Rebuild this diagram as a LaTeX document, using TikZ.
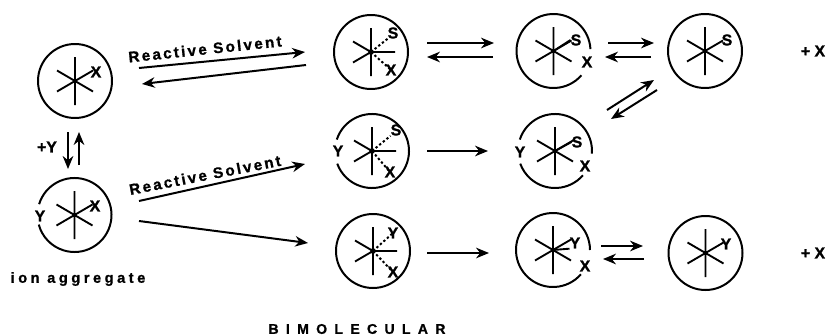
\documentclass[tikz,border=0pt]{standalone}
\usepackage{fontspec}
\setmainfont{Liberation Sans}[BoldFont=Liberation Sans Bold]
\usetikzlibrary{arrows.meta}
\newfontfamily\lblfont[FakeBold=1.2]{Liberation Sans Bold}
\newfontfamily\spfont[LetterSpace=15,FakeBold=1]{Liberation Sans Bold}
\newfontfamily\ionfont[LetterSpace=24,FakeBold=1]{Liberation Sans Bold}
\newfontfamily\bimfont[LetterSpace=52,FakeBold=1]{Liberation Sans Bold}
\tikzset{
  ink/.style={line width=1.7pt,draw=black},
  ring/.style={circle,ink,minimum size=2.22cm,inner sep=0pt},
  hubspot/.style={circle,minimum size=2.22cm,inner sep=0pt},
  spoke/.style={line width=1.6pt,draw=black},
  bond/.style={line width=1.7pt,draw=black,dash pattern=on 2pt off 2pt},
  arr/.style={ink,-{Stealth[length=11pt,width=9pt,inset=3.5pt]}},
  lab/.style={font=\lblfont\fontsize{13.5}{14}\selectfont,inner sep=0pt,text=black},
  solv/.style={font=\spfont\fontsize{13}{14}\selectfont,inner sep=0pt,text=black},
}
\newcommand{\hubfull}[1]{%
  \draw[spoke,shift={(#1.center)}] (0,-24)--(0,24) (-18,-10.5)--(18,10.5) (-18,10.5)--(18,-10.5);}
\newcommand{\hubleft}[1]{%
  \draw[spoke,shift={(#1.center)}] (0,-24)--(0,24) (-18,-10.5)--(0,0) (-18,10.5)--(0,0) (0,0)--(24,0);
  \fill[shift={(#1.center)}] (0,0) circle (2.8);}
\newcommand{\piece}[3]{%
  \draw[ink] ([shift={(#2:37)}]#1.center) arc[start angle=#2,end angle=#3,radius=37];}
\begin{document}
\begin{tikzpicture}[x=0.03cm,y=-0.03cm]
\useasboundingbox (0,0) rectangle (829,336);
% rings
\node[ring] (a1) at (75,81) {};
\node[hubspot] (a2) at (74.5,215) {};
\node[ring] (b1) at (371,52) {};
\node[hubspot] (b2) at (372,151) {};
\node[ring] (b3) at (373,251) {};
\node[hubspot] (c1) at (553.5,51) {};
\node[hubspot] (c2) at (555,151) {};
\node[hubspot] (c3) at (553,250) {};
\node[ring] (d1) at (705,51) {};
\node[ring] (d3) at (705.5,253) {};
\piece{a2}{197}{525}
\piece{b2}{198}{520}
\piece{c1}{41}{357}
\piece{c2}{198}{364}
\piece{c2}{41}{160}
\piece{c3}{41}{360}
% hubs
\hubfull{a1}\hubfull{a2}\hubfull{c1}\hubfull{c2}\hubfull{c3}\hubfull{d1}\hubfull{d3}
\hubleft{b1}\hubleft{b2}\hubleft{b3}
% labels
\node[lab] (la1x) at (96,72) {X};
\node[lab] (la2y) at (40,216) {Y};
\node[lab] (la2x) at (95,206) {X};
\node[lab] (lb1s) at (393,33) {S};
\node[lab] (lb1x) at (391,70) {X};
\node[lab] (lb2y) at (338,151) {Y};
\node[lab] (lb2s) at (396,130) {S};
\node[lab] (lb2x) at (390,172) {X};
\node[lab] (lb3y) at (393,233) {Y};
\node[lab] (lb3x) at (393,272) {X};
\node[lab] (lc1s) at (576,40) {S};
\node[lab] (lc1x) at (587,62) {X};
\node[lab] (lc2y) at (520,152) {Y};
\node[lab] (lc2s) at (577,142) {S};
\node[lab] (lc2x) at (585,166) {X};
\node[lab] (lc3y) at (575,243) {Y};
\node[lab] (lc3x) at (585,266) {X};
\node[lab] (ld1s) at (727,40) {S};
\node[lab] (ld3y) at (726,244) {Y};
\node[lab] (py) at (47,147) {+Y};
\node[lab] (px1) at (813,51) {+ X};
\node[lab] (px2) at (813,253) {+ X};
\node[solv,rotate=6] (rs1) at (205,49) {Reactive Solvent};
\node[solv,rotate=11] (rs2) at (205,175) {Reactive Solvent};
\node[font=\ionfont\fontsize{12.5}{14}\selectfont,inner sep=0pt] (ion) at (78,279) {ion aggregate};
\node[font=\bimfont\fontsize{12}{14}\selectfont,inner sep=0pt] (bim) at (357,329) {BIMOLECULAR};
% bonds from hub to ligand
\draw[bond] (b1.center)--(lb1s.south west) (b1.center)--(lb1x.center);
\draw[bond] (b2.center)--(lb2s.south west) (b2.center)--(lb2x.center);
\draw[bond] (b3.center)--(lb3y.center) (b3.center)--(lb3x.center);
\draw[spoke] (c1.center)--(lc1s.west) (c2.center)--(lc2s.west) (c3.center)--(lc3y.south west);
% arrow ends
\coordinate (e1) at (139,68); \coordinate (e2) at (305,52);
\coordinate (e3) at (306,65); \coordinate (e4) at (142,84);
\coordinate (e5) at (139,201); \coordinate (e6) at (305,164);
\coordinate (e7) at (139,221); \coordinate (e8) at (308,243);
\coordinate (e9) at (68,132); \coordinate (e10) at (68,169);
\coordinate (e11) at (79,165); \coordinate (e12) at (79,132);
\coordinate (f1) at (427,43); \coordinate (f2) at (494,43);
\coordinate (f3) at (493,57); \coordinate (f4) at (427,57);
\coordinate (f5) at (608,43); \coordinate (f6) at (654,43);
\coordinate (f7) at (651,57); \coordinate (f8) at (605,57);
\coordinate (f9) at (607,110); \coordinate (f10) at (654,80);
\coordinate (f11) at (657,90); \coordinate (f12) at (611,119);
\coordinate (f13) at (427,151); \coordinate (f14) at (488,151);
\coordinate (f15) at (427,253); \coordinate (f16) at (489,253);
\coordinate (f17) at (601,246); \coordinate (f18) at (643,246);
\coordinate (f19) at (644,259); \coordinate (f20) at (603,259);
\foreach \p/\q in {e1/e2,e3/e4,e5/e6,e7/e8,e9/e10,e11/e12,f1/f2,f3/f4,f5/f6,f7/f8,f9/f10,f11/f12,f13/f14,f15/f16,f17/f18,f19/f20}
  \draw[arr] (\p)--(\q);
\end{tikzpicture}
\end{document}
